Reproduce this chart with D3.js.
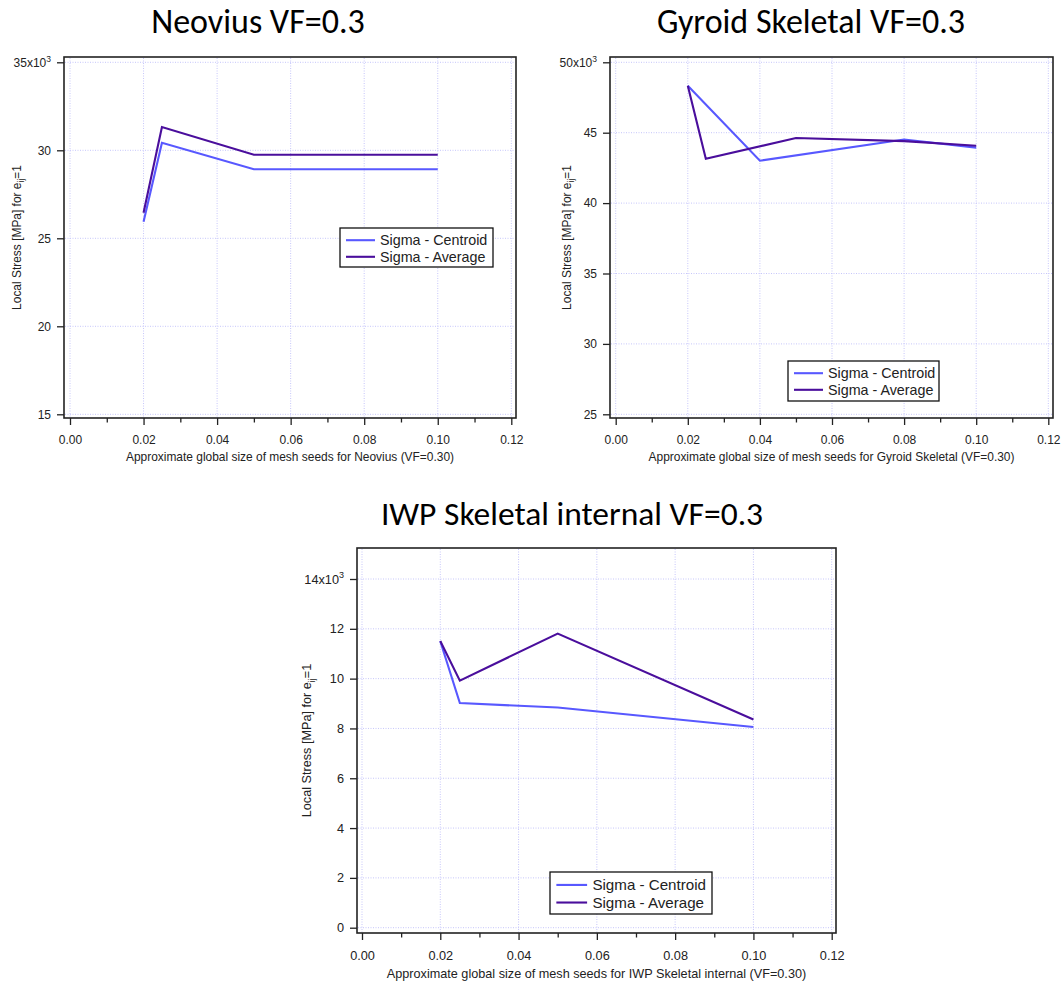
<!DOCTYPE html>
<html>
<head>
<meta charset="utf-8">
<script src="https://cdn.jsdelivr.net/npm/d3@7"></script>
<style>
  html, body { margin: 0; padding: 0; background: #fff; }
  svg { display: block; }
  text { font-family: "Liberation Sans", Arial, sans-serif; fill: #222; }
  .title { font-family: Carlito, Lato, "Open Sans", sans-serif; fill: #000; }
</style>
</head>
<body>
<svg id="fig" width="1061" height="983"></svg>
<script>
// Mesh seed sizes and local stresses (MPa) for e_ij = 1, VF = 0.30
const neoviusX = [0.02, 0.025, 0.05, 0.10];
const neoviusCentroid = [25940, 30430, 28920, 28920];
const neoviusAverage = [26450, 31320, 29750, 29750];

const gyroidCentroidX = [0.02, 0.04, 0.08, 0.10];
const gyroidCentroid = [48340, 43010, 44520, 43940];
const gyroidAverageX = [0.02, 0.025, 0.05, 0.08, 0.10];
const gyroidAverage = [48340, 43150, 44620, 44400, 44070];

const iwpX = [0.02, 0.025, 0.05, 0.10];
const iwpCentroid = [11500, 9020, 8840, 8060];
const iwpAverage = [11510, 9920, 11810, 8360];

// Axis ticks
const xTicks = [0, 0.02, 0.04, 0.06, 0.08, 0.10, 0.12];
const xMinorTicks = [0.01, 0.03, 0.05, 0.07, 0.09, 0.11];
const neoviusYTicks = [15000, 20000, 25000, 30000, 35000];
const gyroidYTicks = [25000, 30000, 35000, 40000, 45000, 50000];
const iwpYTicks = [0, 2000, 4000, 6000, 8000, 10000, 12000, 14000];

const seriesNames = ["Sigma - Centroid", "Sigma - Average"];
const seriesColors = ["#5858ff", "#4a0e9c"];

const charts = [
  {
    title: "Neovius VF=0.3", titleX: 258, titleY: 33, titleSize: 34,
    frame: { l: 64, r: 516, t: 57, b: 418 },
    xRange: [70, 511.3], yRange: [414.3, 62.3], yDomain: [15000, 35000],
    yTicks: neoviusYTicks,
    xTitle: "Approximate global size of mesh seeds for Neovius (VF=0.30)",
    yTitleX: 17, k: 1,
    series: [
      { x: neoviusX, y: neoviusCentroid },
      { x: neoviusX, y: neoviusAverage }
    ],
    legend: { x: 340, y: 228, w: 153, h: 39 }
  },
  {
    title: "Gyroid Skeletal VF=0.3", titleX: 811, titleY: 33, titleSize: 34,
    frame: { l: 610, r: 1053, t: 57, b: 418 },
    xRange: [615.7, 1048.3], yRange: [414.3, 62.3], yDomain: [25000, 50000],
    yTicks: gyroidYTicks,
    xTitle: "Approximate global size of mesh seeds for Gyroid Skeletal (VF=0.30)",
    yTitleX: 567, k: 1,
    series: [
      { x: gyroidCentroidX, y: gyroidCentroid },
      { x: gyroidAverageX, y: gyroidAverage }
    ],
    legend: { x: 788, y: 361, w: 151, h: 40 }
  },
  {
    title: "IWP Skeletal internal VF=0.3", titleX: 572, titleY: 525, titleSize: 33.5,
    frame: { l: 357, r: 836, t: 548, b: 933 },
    xRange: [362, 831.7], yRange: [927.7, 579], yDomain: [0, 14000],
    yTicks: iwpYTicks,
    xTitle: "Approximate global size of mesh seeds for IWP Skeletal internal (VF=0.30)",
    yTitleX: 307, k: 1.06,
    series: [
      { x: iwpX, y: iwpCentroid },
      { x: iwpX, y: iwpAverage }
    ],
    legend: { x: 550, y: 872, w: 162, h: 42 }
  }
];

const svg = d3.select("#fig");

charts.forEach(c => {
  const g = svg.append("g");
  const f = c.frame, k = c.k;
  const x = d3.scaleLinear().domain([0, 0.12]).range(c.xRange);
  const y = d3.scaleLinear().domain(c.yDomain).range(c.yRange);

  // title
  g.append("text").attr("class", "title")
    .attr("x", c.titleX).attr("y", c.titleY)
    .attr("text-anchor", "middle")
    .style("font-size", c.titleSize + "px")
    .text(c.title);

  // dotted grid at major ticks
  const grid = g.append("g")
    .attr("stroke", "#c6c6fa").attr("stroke-width", 1)
    .attr("stroke-dasharray", "1,1.5");
  grid.selectAll("line.gx").data(xTicks).join("line")
    .attr("x1", d => x(d)).attr("x2", d => x(d))
    .attr("y1", f.t + 1).attr("y2", f.b - 1);
  grid.selectAll("line.gy").data(c.yTicks).join("line")
    .attr("y1", d => y(d)).attr("y2", d => y(d))
    .attr("x1", f.l + 1).attr("x2", f.r - 1);

  // data lines
  const line = d3.line().x(d => x(d[0])).y(d => y(d[1]));
  c.series.forEach((s, i) => {
    g.append("path")
      .datum(s.x.map((v, j) => [v, s.y[j]]))
      .attr("fill", "none")
      .attr("stroke", seriesColors[i])
      .attr("stroke-width", 2.1)
      .attr("stroke-linejoin", "miter")
      .attr("d", line);
  });

  // plot frame
  g.append("rect")
    .attr("x", f.l).attr("y", f.t)
    .attr("width", f.r - f.l).attr("height", f.b - f.t)
    .attr("fill", "none").attr("stroke", "#222").attr("stroke-width", 1.6);

  // bottom axis (major + minor ticks)
  const tickFont = 12 * k;
  const xAxis = g.append("g").attr("transform", `translate(0,${f.b})`)
    .call(d3.axisBottom(x).tickValues(xTicks).tickFormat(d3.format(".2f"))
      .tickSize(7).tickPadding(10.5 * k));
  xAxis.select(".domain").remove();
  xAxis.selectAll("line").attr("stroke", "#222").attr("stroke-width", 1.3);
  xAxis.selectAll("text").style("font-size", tickFont + "px").attr("fill", "#222");
  const xMinor = g.append("g").attr("transform", `translate(0,${f.b})`)
    .call(d3.axisBottom(x).tickValues(xMinorTicks).tickFormat("").tickSize(4.5));
  xMinor.select(".domain").remove();
  xMinor.selectAll("line").attr("stroke", "#222").attr("stroke-width", 1.3);

  // left axis, top tick carries the x10^3 multiplier
  const topTick = c.yTicks[c.yTicks.length - 1];
  const yAxis = g.append("g").attr("transform", `translate(${f.l},0)`)
    .call(d3.axisLeft(y).tickValues(c.yTicks).tickFormat(d => String(d / 1000))
      .tickSize(7).tickPadding(6));
  yAxis.select(".domain").remove();
  yAxis.selectAll("line").attr("stroke", "#222").attr("stroke-width", 1.3);
  yAxis.selectAll("text").style("font-size", tickFont + "px").attr("fill", "#222");
  yAxis.selectAll(".tick").filter(d => d === topTick).select("text")
    .each(function (d) {
      const t = d3.select(this).text(null);
      t.append("tspan").text((d / 1000) + "x10");
      t.append("tspan").attr("dy", -5 * k).style("font-size", (8.5 * k) + "px").text("3");
    });

  // axis titles
  const titleFont = 11.95 * k;
  g.append("text")
    .attr("x", (f.l + f.r) / 2).attr("y", f.b + 42.5 * k)
    .attr("text-anchor", "middle")
    .style("font-size", titleFont + "px")
    .text(c.xTitle);

  const yt = g.append("text")
    .attr("transform", `translate(${c.yTitleX},${(f.t + f.b) / 2}) rotate(-90)`)
    .attr("text-anchor", "middle").attr("dy", "0.35em")
    .style("font-size", titleFont + "px");
  yt.append("tspan").text("Local Stress [MPa] for e");
  yt.append("tspan").attr("dy", 3 * k).style("font-size", (8.4 * k) + "px").text("ij");
  yt.append("tspan").attr("dy", -3 * k).text("=1");

  // legend
  const L = c.legend;
  const lg = g.append("g").attr("transform", `translate(${L.x},${L.y})`);
  lg.append("rect").attr("width", L.w).attr("height", L.h)
    .attr("fill", "#fff").attr("stroke", "#111").attr("stroke-width", 1.3);
  const rowY = [12.2 * k, 28.8 * k];
  seriesNames.forEach((name, i) => {
    lg.append("line")
      .attr("x1", 6 * k).attr("x2", 35 * k)
      .attr("y1", rowY[i]).attr("y2", rowY[i])
      .attr("stroke", seriesColors[i]).attr("stroke-width", 2.1);
    lg.append("text")
      .attr("x", 40 * k).attr("y", rowY[i]).attr("dy", "0.36em")
      .style("font-size", (14.3 * k) + "px").attr("fill", "#111")
      .text(name);
  });
});
</script>
</body>
</html>
